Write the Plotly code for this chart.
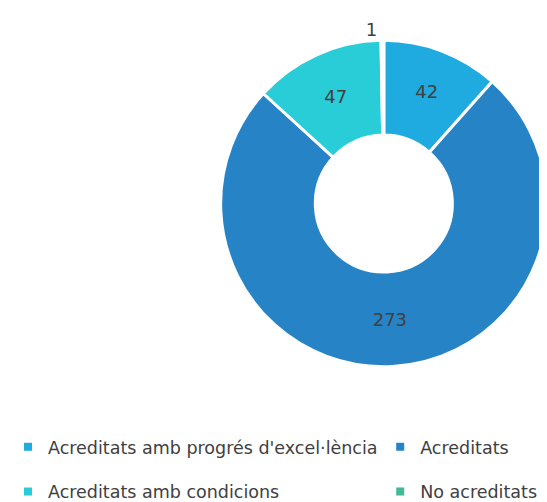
import plotly.graph_objects as go

# Accreditation results
labels = [
    "Acreditats amb progrés d'excel·lència",
    "Acreditats",
    "Acreditats amb condicions",
    "No acreditats",
]
values = [42, 273, 47, 1]
colors = ["#1FABE0", "#2683C6", "#29CDD7", "#42BA97"]

# legend column each category goes into (two-column legend below the donut)
legend_cols = ["legend", "legend2", "legend", "legend2"]

TEXT_COLOR = "#404040"
FONT = "'DejaVu Sans', sans-serif"

fig = go.Figure()

fig.add_trace(
    go.Pie(
        labels=labels,
        values=values,
        hole=0.42,
        sort=False,
        direction="clockwise",
        rotation=0,
        marker=dict(colors=colors, line=dict(color="white", width=3)),
        textinfo="value",
        textposition=["inside", "inside", "inside", "outside"],
        insidetextorientation="horizontal",
        textfont=dict(family=FONT, size=18, color=TEXT_COLOR),
        domain=dict(x=[0.3894, 1.0], y=[0.268, 0.934]),
        showlegend=False,
    )
)

# legend entries (square swatches) split into two columns
for i, (lab, col, leg) in enumerate(zip(labels, colors, legend_cols)):
    fig.add_trace(
        go.Scatter(
            x=[None],
            y=[None],
            mode="markers",
            name=lab,
            marker=dict(symbol="square", size=8, color=col),
            legend=leg,
            legendgroup=f"g{i}",
            hoverinfo="skip",
        )
    )

legend_style = dict(
    orientation="v",
    xanchor="left",
    yanchor="top",
    y=0.141,
    tracegroupgap=19,
    bgcolor="rgba(0,0,0,0)",
    font=dict(family=FONT, size=17.5, color=TEXT_COLOR),
    traceorder="grouped",
)

fig.update_layout(
    width=547,
    height=502,
    margin=dict(l=0, r=0, t=0, b=0),
    paper_bgcolor="white",
    plot_bgcolor="white",
    font=dict(family=FONT, color=TEXT_COLOR),
    xaxis=dict(visible=False),
    yaxis=dict(visible=False),
    legend=dict(x=0, **legend_style),
    legend2=dict(x=0.688, **legend_style),
)

fig.write_html("out.html")
